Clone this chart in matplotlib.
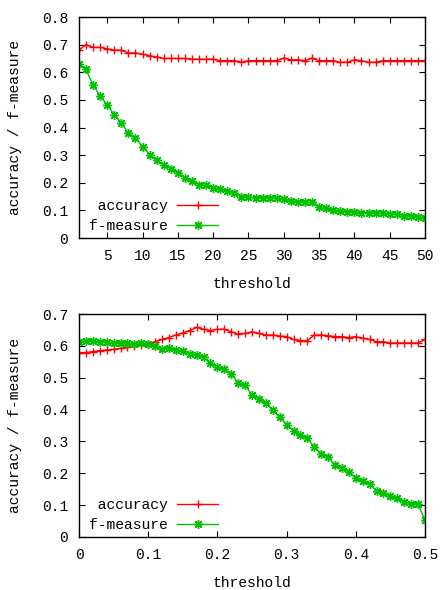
import matplotlib
matplotlib.use("Agg")
import matplotlib.pyplot as plt
import numpy as np

plt.rcParams['font.family'] = ['Liberation Mono', 'DejaVu Sans Mono']

# upper panel: threshold 1..50
top_threshold = list(range(1, 51))
top_accuracy = [0.68, 0.70, 0.69, 0.69, 0.685, 0.68, 0.68, 0.67, 0.67, 0.665,
                0.66, 0.655, 0.65, 0.65, 0.65, 0.65, 0.647, 0.647, 0.647, 0.647,
                0.642, 0.642, 0.642, 0.636, 0.642, 0.642, 0.642, 0.642, 0.642, 0.651,
                0.645, 0.645, 0.642, 0.651, 0.642, 0.642, 0.642, 0.636, 0.636, 0.645,
                0.642, 0.636, 0.636, 0.642, 0.642, 0.642, 0.642, 0.642, 0.642, 0.642]
top_fmeasure = [0.631, 0.61, 0.553, 0.514, 0.481, 0.447, 0.416, 0.379, 0.362, 0.331,
                0.302, 0.281, 0.266, 0.251, 0.236, 0.217, 0.205, 0.193, 0.191, 0.182,
                0.177, 0.170, 0.163, 0.150, 0.148, 0.146, 0.146, 0.146, 0.145, 0.141,
                0.135, 0.131, 0.131, 0.129, 0.114, 0.107, 0.101, 0.099, 0.095, 0.094,
                0.092, 0.092, 0.089, 0.089, 0.087, 0.087, 0.081, 0.081, 0.077, 0.074]

# lower panel: threshold 0..0.5
bot_threshold = [i / 100 for i in range(0, 51)]
bot_accuracy = [0.578, 0.579, 0.582, 0.585, 0.587, 0.589, 0.592, 0.595, 0.599, 0.602,
                0.605, 0.613, 0.62, 0.626, 0.634, 0.641, 0.648, 0.658, 0.652, 0.648,
                0.652, 0.652, 0.644, 0.637, 0.639, 0.644, 0.639, 0.634, 0.634, 0.631,
                0.629, 0.62, 0.616, 0.616, 0.634, 0.634, 0.632, 0.629, 0.629, 0.626,
                0.629, 0.624, 0.620, 0.613, 0.613, 0.609, 0.609, 0.609, 0.609, 0.609,
                0.62]
bot_fmeasure = [0.613, 0.616, 0.616, 0.613, 0.613, 0.609, 0.609, 0.609, 0.606, 0.609,
                0.606, 0.598, 0.591, 0.594, 0.587, 0.583, 0.576, 0.571, 0.564, 0.547,
                0.533, 0.526, 0.512, 0.484, 0.477, 0.446, 0.434, 0.42, 0.398, 0.376,
                0.353, 0.334, 0.32, 0.31, 0.283, 0.262, 0.25, 0.225, 0.217, 0.204,
                0.184, 0.176, 0.166, 0.145, 0.138, 0.128, 0.121, 0.11, 0.105, 0.103,
                0.052]

RED = '#ff0000'
GREEN = '#00c000'
asterisk = (8, 2, 0)
FS = 10.5

fig = plt.figure(figsize=(4.4, 5.9), dpi=100)
ax1 = fig.add_axes([79 / 440, 1 - 238 / 590, 346 / 440, 221 / 590])
ax2 = fig.add_axes([79 / 440, 1 - 537 / 590, 346 / 440, 223 / 590])


def style_axes(ax):
    ax.tick_params(direction='in', top=True, right=True, length=4, width=0.8,
                   labelsize=FS, colors='black')
    ax.tick_params(axis='x', pad=8)
    ax.tick_params(axis='y', pad=8)
    for s in ax.spines.values():
        s.set_linewidth(1)
    ax.set_xlabel('threshold', fontsize=FS, labelpad=10)
    ax.set_ylabel('accuracy / f-measure', fontsize=FS, labelpad=14)
    leg = ax.legend(loc='lower left', bbox_to_anchor=(0.0, -0.022), frameon=False,
                    markerfirst=False, handlelength=2.8, handletextpad=0.65,
                    labelspacing=0.4, fontsize=FS, borderaxespad=0.3)
    return leg


# 上面的图
ax1.plot(top_threshold, top_accuracy, color=RED, lw=1, marker='+', ms=5.5, mew=1,
         label=' accuracy')
ax1.plot(top_threshold, top_fmeasure, color=GREEN, lw=1, marker=asterisk, ms=6.5, mew=1,
         label='f-measure')
ax1.set_xlim(1, 50)
ax1.set_ylim(0, 0.8)
ax1.set_xticks(range(5, 51, 5))
ax1.set_yticks(np.arange(0, 0.81, 0.1))
ax1.set_yticklabels(['0'] + ['%.1f' % v for v in np.arange(0.1, 0.81, 0.1)])
style_axes(ax1)

# 下面的图
ax2.plot(bot_threshold, bot_accuracy, color=RED, lw=1, marker='+', ms=5.5, mew=1,
         label=' accuracy')
ax2.plot(bot_threshold, bot_fmeasure, color=GREEN, lw=1, marker=asterisk, ms=6.5, mew=1,
         label='f-measure')
ax2.set_xlim(0, 0.5)
ax2.set_ylim(0, 0.7)
ax2.set_xticks(np.arange(0, 0.51, 0.1))
ax2.set_xticklabels(['0'] + ['%.1f' % v for v in np.arange(0.1, 0.51, 0.1)])
ax2.set_yticks(np.arange(0, 0.71, 0.1))
ax2.set_yticklabels(['0'] + ['%.1f' % v for v in np.arange(0.1, 0.71, 0.1)])
style_axes(ax2)

fig.savefig('out.png', dpi=100)
